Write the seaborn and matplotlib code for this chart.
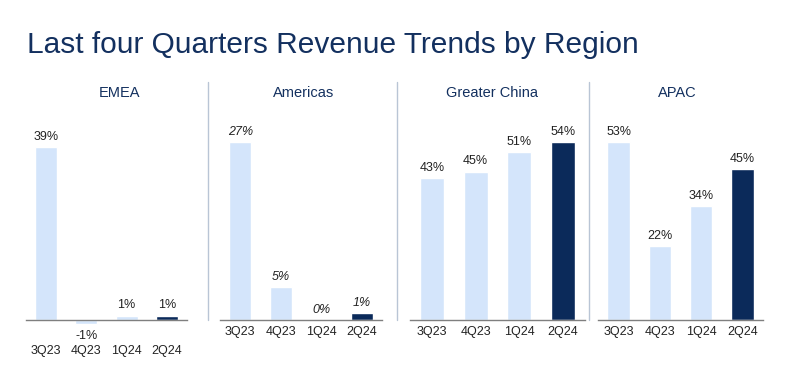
import matplotlib
matplotlib.use("Agg")
import matplotlib.pyplot as plt
import seaborn as sns
from matplotlib.lines import Line2D

# --- data ---
quarters = ["3Q23", "4Q23", "1Q24", "2Q24"]
regions = ["EMEA", "Americas", "Greater China", "APAC"]
emea = [39, -1, 1, 1]
americas = [27, 5, 0, 1]
greater_china = [43, 45, 51, 54]
apac = [53, 22, 34, 45]
values = [emea, americas, greater_china, apac]

light = "#d4e5fb"
dark = "#0b2a5a"
navy = "#13305f"
bar_colors = [light, light, light, dark]

sns.set_style("white")
plt.rcParams["font.family"] = ["Liberation Sans", "DejaVu Sans"]

fig = plt.figure(figsize=(8, 3.88), dpi=100)

# axes placement in pixels: (left, right, y value at axis top)
panels = [(26, 187, 40.1), (220, 382, 27), (410, 585, 54), (598, 763, 53)]
title_x = [120, 304, 492, 677]
base_y = 320
top_y = 142

for i, (region, vals) in enumerate(zip(regions, values)):
    x0, x1, ymax = panels[i]
    ax = fig.add_axes([x0 / 800, (388 - base_y) / 388, (x1 - x0) / 800, (base_y - top_y) / 388])
    sns.barplot(x=quarters, y=vals, hue=quarters, palette=bar_colors, legend=False,
                width=0.55, saturation=1, ax=ax)
    for p in ax.patches:
        p.set_clip_on(False)
    ax.set_xlim(-0.5, 3.5)
    ax.set_ylim(0, ymax)
    ax.set_yticks([])
    ax.set_xlabel("")
    ax.set_ylabel("")
    for s in ["top", "right", "left"]:
        ax.spines[s].set_visible(False)
    ax.spines["bottom"].set_color("#7f7f7f")
    ax.spines["bottom"].set_linewidth(1)
    has_neg = min(vals) < 0
    ax.tick_params(axis="x", length=0, pad=18 if has_neg else 4, labelsize=9, labelcolor="#222222")
    style = "italic" if region == "Americas" else "normal"
    for j, v in enumerate(vals):
        if v < 0:
            ax.annotate(f"{v}%", (j, v), xytext=(0, -4), textcoords="offset points",
                        ha="center", va="top", fontsize=9, color="#222222", style=style,
                        annotation_clip=False)
        else:
            ax.annotate(f"{v}%", (j, v), xytext=(0, 3), textcoords="offset points",
                        ha="center", va="bottom", fontsize=9, color="#222222", style=style,
                        annotation_clip=False)
    fig.text(title_x[i] / 800, 1 - 93 / 388, region, ha="center", va="center",
             fontsize=10.5, color=navy)

# separators between panels
for sx in [208, 397, 589]:
    fig.add_artist(Line2D([sx / 800, sx / 800], [(388 - 320) / 388, (388 - 82) / 388],
                          color="#b9c5d5", linewidth=1))

fig.text(27 / 800, 1 - 53 / 388, "Last four Quarters Revenue Trends by Region",
         ha="left", va="baseline", fontsize=21.5, color=navy)

fig.savefig("out.png", dpi=100)
